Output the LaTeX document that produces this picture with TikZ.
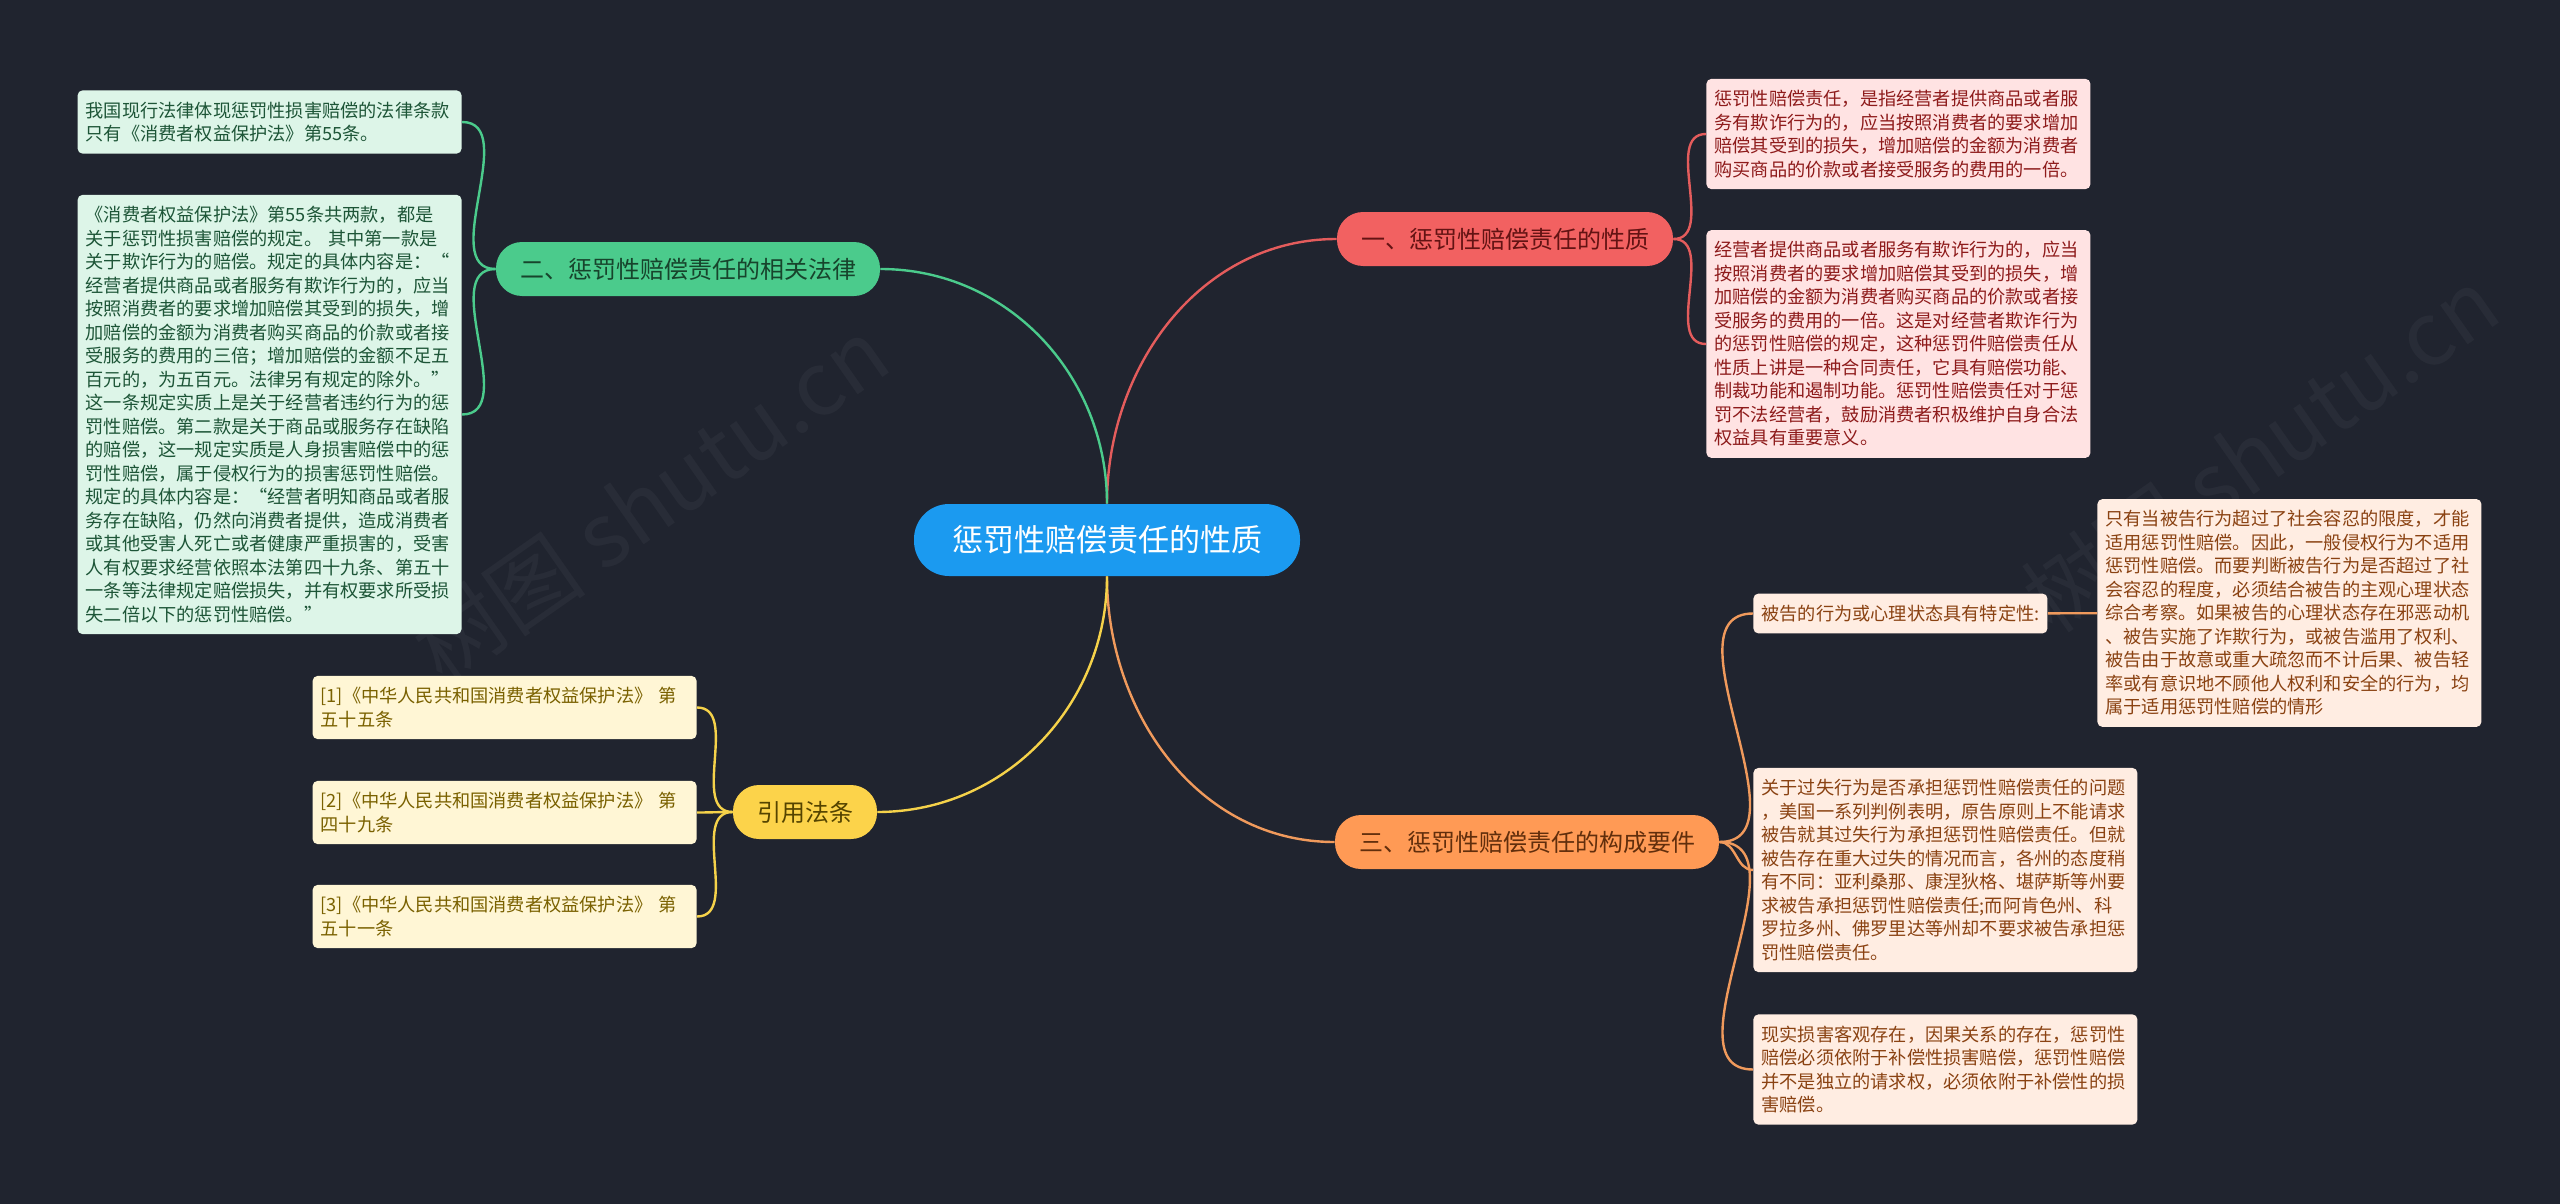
\documentclass[tikz,border=0pt]{standalone}
\usepackage{fontspec}
\setmainfont{Noto Sans CJK SC}
\definecolor{bg}{HTML}{20242F}
\definecolor{rootblue}{HTML}{1B9AF0}
\definecolor{redbr}{HTML}{F26161}
\definecolor{redline}{HTML}{E45C5C}
\definecolor{redleaf}{HTML}{FFE3E3}
\definecolor{redtext}{HTML}{8E1B1B}
\definecolor{greenbr}{HTML}{4BCB8C}
\definecolor{greenleaf}{HTML}{DDF5E8}
\definecolor{greentext}{HTML}{1D5537}
\definecolor{yellowbr}{HTML}{FCD34A}
\definecolor{yellowline}{HTML}{F5D24A}
\definecolor{yellowleaf}{HTML}{FFF6D5}
\definecolor{yellowtext}{HTML}{7A6100}
\definecolor{orangebr}{HTML}{FF9A55}
\definecolor{orangeline}{HTML}{F09A5C}
\definecolor{orangeleaf}{HTML}{FFEDE2}
\definecolor{orangetext}{HTML}{8A4212}
\begin{document}
\begin{tikzpicture}[x=0.5pt, y=-0.5pt,
	root/.style={fill=rootblue, text=white, rounded corners=17.5pt, minimum height=36pt, inner xsep=19pt, font=\fontsize{15.5}{18}\selectfont},
	br/.style={rounded corners=13pt, minimum height=27pt, inner xsep=12pt, font=\fontsize{12}{14}\selectfont},
	lf/.style={rounded corners=2.5pt, align=left, inner xsep=4pt, inner ysep=5.7pt, font=\fontsize{9.1}{11.75}\selectfont},
	leaf/.style={lf, text width=184pt},
	lr/.style={fill=redleaf, text=redtext},
	lg/.style={fill=greenleaf, text=greentext},
	ly/.style={fill=yellowleaf, text=yellowtext},
	lo/.style={fill=orangeleaf, text=orangetext},
	wm/.style={text=white, opacity=0.04, rotate=35, font=\fontsize{44}{50}\selectfont},
	ln/.style={line width=1.2pt}]
	\fill[bg] (0,0) rectangle (2560,1204);
	\useasboundingbox (0,0) rectangle (2560,1204);

	\node[wm] (wm1) at (650,500) {树图 shutu.cn};
	\node[wm] (wm2) at (2260,450) {树图 shutu.cn};

	\node[root] (root) at (1107,540) {惩罚性赔偿责任的性质};
	\node[br, fill=redbr, text=redtext!70!black] (b1) at (1505,239) {一、惩罚性赔偿责任的性质};
	\node[br, fill=greenbr, text=greentext!80!black] (b2) at (688,269) {二、惩罚性赔偿责任的相关法律};
	\node[br, fill=orangebr, text=orangetext!70!black] (b3) at (1527,842) {三、惩罚性赔偿责任的构成要件};
	\node[br, fill=yellowbr, text=yellowtext!70!black] (b4) at (805,812) {引用法条};

	% 一
	\node[leaf, lr, anchor=west] (r1) at (1706,134) {惩罚性赔偿责任，是指经营者提供商品或者服\\务有欺诈行为的，应当按照消费者的要求增加\\赔偿其受到的损失，增加赔偿的金额为消费者\\购买商品的价款或者接受服务的费用的一倍。};
	\node[leaf, lr, anchor=west] (r2) at (1706,344) {经营者提供商品或者服务有欺诈行为的，应当\\按照消费者的要求增加赔偿其受到的损失，增\\加赔偿的金额为消费者购买商品的价款或者接\\受服务的费用的一倍。这是对经营者欺诈行为\\的惩罚性赔偿的规定，这种惩罚件赔偿责任从\\性质上讲是一种合同责任，它具有赔偿功能、\\制裁功能和遏制功能。惩罚性赔偿责任对于惩\\罚不法经营者，鼓励消费者积极维护自身合法\\权益具有重要意义。};

	% 二
	\node[leaf, lg, anchor=east] (g1) at (462,122) {我国现行法律体现惩罚性损害赔偿的法律条款\\只有《消费者权益保护法》第55条。};
	\node[leaf, lg, anchor=east] (g2) at (462,414.5) {《消费者权益保护法》第55条共两款，都是\\关于惩罚性损害赔偿的规定。 其中第一款是\\关于欺诈行为的赔偿。规定的具体内容是：“\\经营者提供商品或者服务有欺诈行为的，应当\\按照消费者的要求增加赔偿其受到的损失，增\\加赔偿的金额为消费者购买商品的价款或者接\\受服务的费用的三倍；增加赔偿的金额不足五\\百元的，为五百元。法律另有规定的除外。”\\这一条规定实质上是关于经营者违约行为的惩\\罚性赔偿。第二款是关于商品或服务存在缺陷\\的赔偿，这一规定实质是人身损害赔偿中的惩\\罚性赔偿，属于侵权行为的损害惩罚性赔偿。\\规定的具体内容是：“经营者明知商品或者服\\务存在缺陷，仍然向消费者提供，造成消费者\\或其他受害人死亡或者健康严重损害的，受害\\人有权要求经营依照本法第四十九条、第五十\\一条等法律规定赔偿损失，并有权要求所受损\\失二倍以下的惩罚性赔偿。”};

	% 三
	\node[lf, lo, anchor=west] (o1) at (1753,613.5) {被告的行为或心理状态具有特定性:};
	\node[leaf, lo, anchor=west] (o2) at (2097,613) {只有当被告行为超过了社会容忍的限度，才能\\适用惩罚性赔偿。因此，一般侵权行为不适用\\惩罚性赔偿。而要判断被告行为是否超过了社\\会容忍的程度，必须结合被告的主观心理状态\\综合考察。如果被告的心理状态存在邪恶动机\\、被告实施了诈欺行为，或被告滥用了权利、\\被告由于故意或重大疏忽而不计后果、被告轻\\率或有意识地不顾他人权利和安全的行为，均\\属于适用惩罚性赔偿的情形};
	\node[leaf, lo, anchor=west] (o3) at (1753,870) {关于过失行为是否承担惩罚性赔偿责任的问题\\，美国一系列判例表明，原告原则上不能请求\\被告就其过失行为承担惩罚性赔偿责任。但就\\被告存在重大过失的情况而言，各州的态度稍\\有不同：亚利桑那、康涅狄格、堪萨斯等州要\\求被告承担惩罚性赔偿责任;而阿肯色州、科\\罗拉多州、佛罗里达等州却不要求被告承担惩\\罚性赔偿责任。};
	\node[leaf, lo, anchor=west] (o4) at (1753,1069.5) {现实损害客观存在，因果关系的存在，惩罚性\\赔偿必须依附于补偿性损害赔偿，惩罚性赔偿\\并不是独立的请求权，必须依附于补偿性的损\\害赔偿。};

	% 引用法条
	\node[leaf, ly, anchor=east] (y1) at (697,707.5) {[1]《中华人民共和国消费者权益保护法》 第\\五十五条};
	\node[leaf, ly, anchor=east] (y2) at (697,812.5) {[2]《中华人民共和国消费者权益保护法》 第\\四十九条};
	\node[leaf, ly, anchor=east] (y3) at (697,916.5) {[3]《中华人民共和国消费者权益保护法》 第\\五十一条};

	\draw[ln, redline] (root.north) edge[out=90, in=180] (b1.west);
	\draw[ln, greenbr] (root.north) edge[out=90, in=0] (b2.east);
	\draw[ln, orangeline] (root.south) edge[out=-90, in=180] (b3.west);
	\draw[ln, yellowline] (root.south) edge[out=-90, in=0] (b4.east);

	\draw[ln, redline] (b1.east) edge[out=0, in=180] (r1.west) edge[out=0, in=180] (r2.west);
	\draw[ln, greenbr] (b2.west) edge[out=180, in=0] (g1.east) edge[out=180, in=0] (g2.east);
	\draw[ln, orangeline] (b3.east) edge[out=0, in=180] (o1.west) edge[out=0, in=180] (o3.west) edge[out=0, in=180] (o4.west);
	\draw[ln, orangeline] (o1) edge (o2);
	\draw[ln, yellowline] (b4.west) edge[out=180, in=0] (y1.east) edge[out=180, in=0] (y2.east) edge[out=180, in=0] (y3.east);
\end{tikzpicture}
\end{document}
